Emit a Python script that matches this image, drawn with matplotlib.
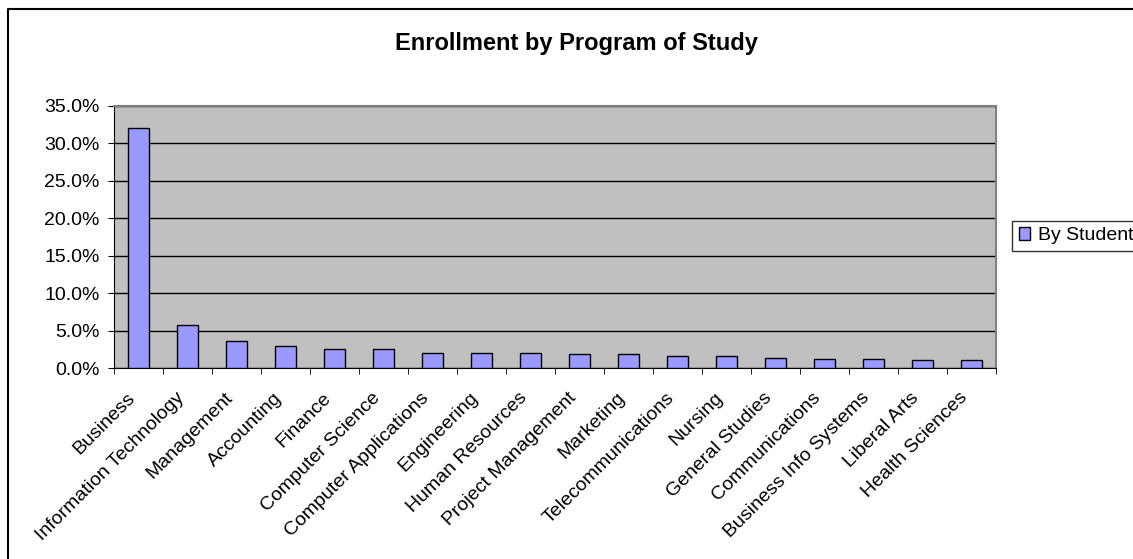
import matplotlib.pyplot as plt
import numpy as np
from matplotlib.lines import Line2D
from matplotlib.ticker import PercentFormatter
from matplotlib.transforms import ScaledTranslation

plt.rcParams['font.family'] = ['Liberation Sans', 'DejaVu Sans']

programs = ["Business", "Information Technology", "Management", "Accounting",
            "Finance", "Computer Science", "Computer Applications", "Engineering",
            "Human Resources", "Project Management", "Marketing",
            "Telecommunications", "Nursing", "General Studies", "Communications",
            "Business Info Systems", "Liberal Arts", "Health Sciences"]
by_student = [32.0, 5.8, 3.6, 3.0, 2.6, 2.6, 2.0, 2.0, 2.0, 1.9, 1.9,
              1.6, 1.6, 1.4, 1.2, 1.2, 1.1, 1.1]

fig = plt.figure(figsize=(11.33, 5.59), dpi=100)
ax = fig.add_axes([0.1006, 0.3411, 0.7782, 0.4693])
ax.set_facecolor('#C0C0C0')

x = np.arange(len(programs))
ax.bar(x, by_student, width=0.43, color='#9999FF', edgecolor='black',
       linewidth=1, label='By Student', zorder=3)

ax.set_xlim(-0.5, len(programs) - 0.5)
ax.set_ylim(0, 35)
ax.set_yticks(np.arange(0, 35.1, 5))
ax.yaxis.set_major_formatter(PercentFormatter(decimals=1))
ax.yaxis.grid(True, color='black', linewidth=1, zorder=1)

ax.set_xticks(x)
ax.set_xticklabels(programs, rotation=45, ha='right', va='top',
                   rotation_mode='anchor')
ax.set_xticks(np.arange(-0.5, len(programs)), minor=True)
ax.tick_params(axis='x', which='major', length=0, pad=15, labelsize=14)
ax.tick_params(axis='x', which='minor', length=4, direction='out', color='black')
ax.tick_params(axis='y', length=4.5, direction='out', labelsize=14, pad=6)

# labels sit a little left of the category centre, as in the original
shift = ScaledTranslation(-12 / 100, 0, fig.dpi_scale_trans)
for lbl in ax.get_xticklabels():
    lbl.set_transform(lbl.get_transform() + shift)

for side in ['top', 'right']:
    ax.spines[side].set_color('#808080')
    ax.spines[side].set_linewidth(1.5)
for side in ['left', 'bottom']:
    ax.spines[side].set_color('black')

fig.text(0.5085, 0.923, 'Enrollment by Program of Study', ha='center', va='center',
         fontsize=17, fontweight='bold')

fig.legend(loc='center left', bbox_to_anchor=(0.893, 0.578), frameon=True,
           fancybox=False, edgecolor='black', fontsize=14, handlelength=0.6,
           handleheight=0.6, handletextpad=0.4, borderpad=0.35, borderaxespad=0)

# chart border (only left and top edges fall inside the image)
fig.lines.append(Line2D([8 / 1133, 8 / 1133, 1.0], [0.0, 1 - 9 / 559, 1 - 9 / 559],
                        transform=fig.transFigure, color='black', linewidth=1.5))

fig.savefig('out.png', dpi=100)
